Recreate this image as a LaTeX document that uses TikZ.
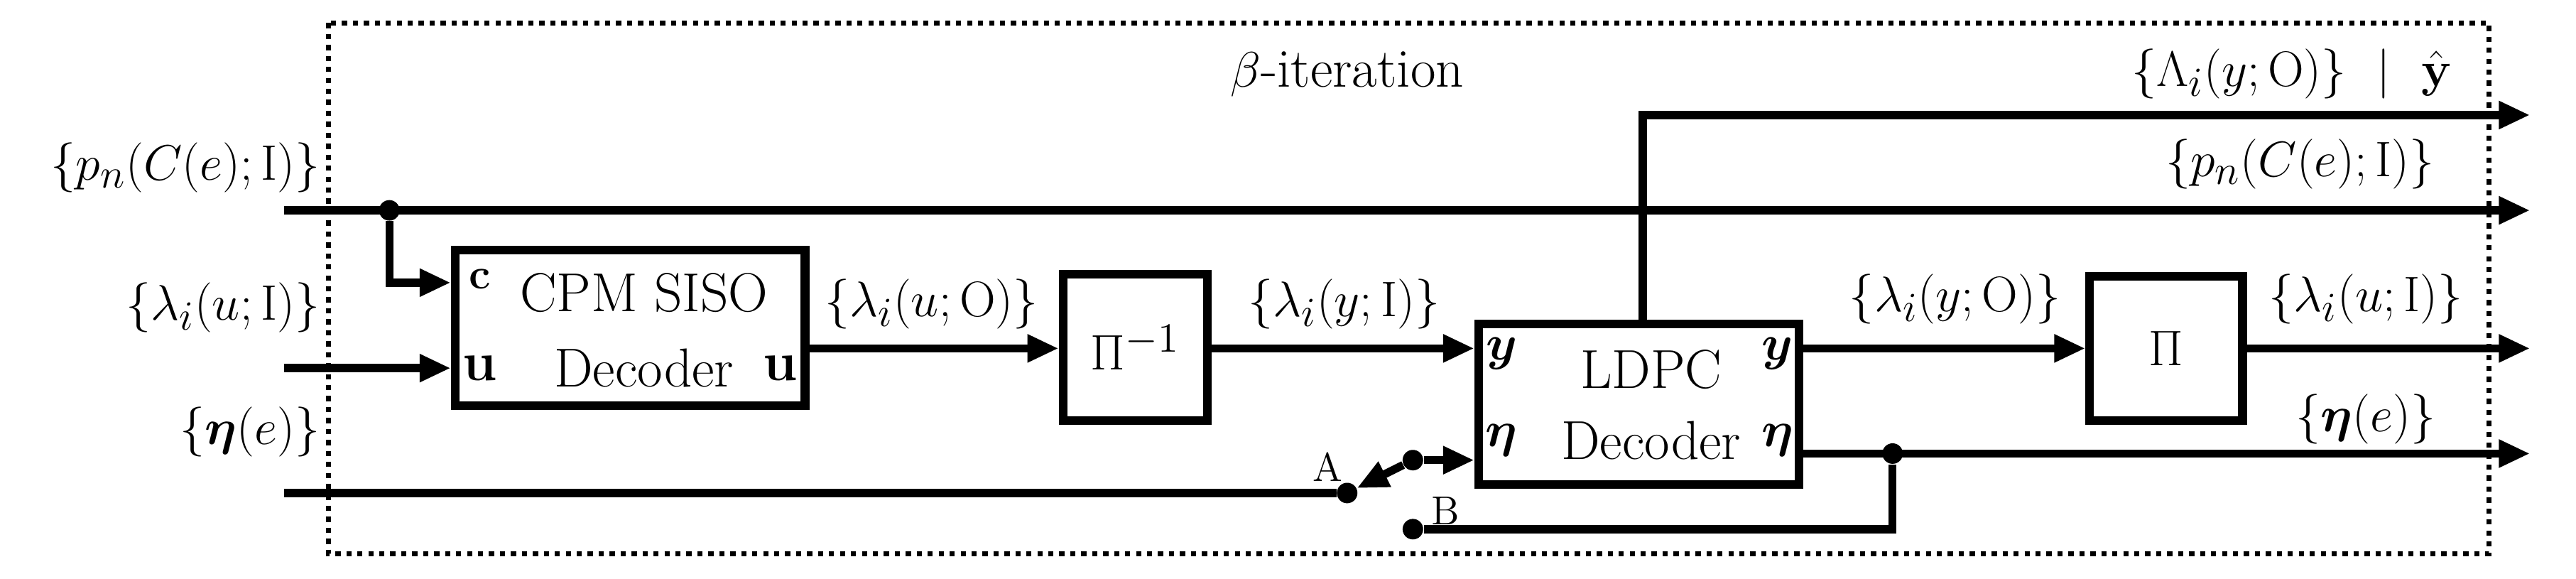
\documentclass[tikz,border=0pt]{standalone}
\usepackage{amsmath,bm}
\usetikzlibrary{arrows.meta}
\begin{document}
\begin{tikzpicture}[x=0.02cm,y=-0.02cm,
  every node/.style={font=\fontsize{19}{22}\selectfont,inner sep=0pt},
  ln/.style={line width=2.8pt},
  ar/.style={ln,-{Triangle[length=0.38cm,width=0.32cm]}},
  dot/.style={circle,fill,minimum size=0.25cm,inner sep=0pt}]
\useasboundingbox (0,0) rectangle (1568,352);
\draw[line width=1.8pt,dotted] (200,14) rectangle (1515,337);
\node (beta) at (820,45) {$\beta$-iteration};
% blocks
\node[draw,line width=3pt,minimum width=4.26cm,minimum height=1.9cm] (cpm) at (383.5,199.5) {};
\node at (392,178) {CPM SISO};
\node at (392,224) {Decoder};
\node[font=\fontsize{15}{18}\selectfont\bfseries] at (292,170) {c};
\node[font=\fontsize{19}{22}\selectfont\bfseries] at (292,224) {u};
\node[font=\fontsize{19}{22}\selectfont\bfseries] at (475,224) {u};
\node[draw,line width=3pt,minimum width=1.76cm,minimum height=1.78cm] (pinv) at (691,211.5) {$\Pi^{-1}$};
\node[draw,line width=3pt,minimum width=3.9cm,minimum height=1.96cm] (ldpc) at (997.5,246) {};
\node at (1005,225) {LDPC};
\node at (1005,268) {Decoder};
\node at (914,215) {$\bm{y}$};
\node at (1082,215) {$\bm{y}$};
\node at (914,268) {$\bm{\eta}$};
\node at (1082,268) {$\bm{\eta}$};
\node[draw,line width=3pt,minimum width=1.86cm,minimum height=1.76cm] (pi) at (1318.5,212) {$\Pi$};
% coordinates
\coordinate (pL) at (173,128); \coordinate (pR) at (1540,128);
\node[dot] (d1) at (237,128) {};
\coordinate (k1) at (237,172);
\coordinate (lL) at (173,224); \coordinate (eL) at (173,300);
\node[dot] (A) at (820,300) {};
\node[dot] (S) at (860,280) {};
\node[dot] (B) at (860,322) {};
\node[dot] (d2) at (1152,276) {};
\coordinate (k2) at (1152,322);
\coordinate (top) at (1000,70); \coordinate (topR) at (1540,70);
\coordinate (yR) at (1540,212); \coordinate (eR) at (1540,276);
% connectors
\draw[ar] (pL) -- (pR);
\draw[ar] (d1) -- (k1) -- (cpm.west |- k1);
\draw[ar] (lL) -- (cpm.west |- lL);
\draw[ln] (eL) -- (A);
\draw[ar] (S) -- (A);
\draw[ar] (S) -- (ldpc.west |- S);
\draw[ar] (cpm.east |- 0,212) -- (pinv.west |- 0,212);
\draw[ar] (pinv.east |- 0,212) -- (ldpc.west |- 0,212);
\draw[ar] (ldpc.east |- 0,212) -- (pi.west |- 0,212);
\draw[ar] (pi.east |- yR) -- (yR);
\draw[ar] (ldpc.east |- eR) -- (eR);
\draw[ln] (d2) -- (k2) -- (B);
\draw[ar] (ldpc.north -| top) -- (top) -- (topR);
% labels
\node[anchor=east] at (195,102) {$\{p_n(C(e);\mathrm{I})\}$};
\node[anchor=east] at (195,187) {$\{\lambda_i(u;\mathrm{I})\}$};
\node[anchor=east] at (195,263) {$\{\bm{\eta}(e)\}$};
\node at (567,185) {$\{\lambda_i(u;\mathrm{O})\}$};
\node at (818,185) {$\{\lambda_i(y;\mathrm{I})\}$};
\node at (1190,182) {$\{\lambda_i(y;\mathrm{O})\}$};
\node at (1440,182) {$\{\lambda_i(u;\mathrm{I})\}$};
\node at (1440,255) {$\{\bm{\eta}(e)\}$};
\node at (1400,100) {$\{p_n(C(e);\mathrm{I})\}$};
\node at (1395,45) {$\{\Lambda_i(y;\mathrm{O})\}\ \mid\ \hat{\mathbf{y}}$};
\node[font=\fontsize{14}{16}\selectfont] at (808,284) {A};
\node[font=\fontsize{14}{16}\selectfont] at (880,311) {B};
\end{tikzpicture}
\end{document}
